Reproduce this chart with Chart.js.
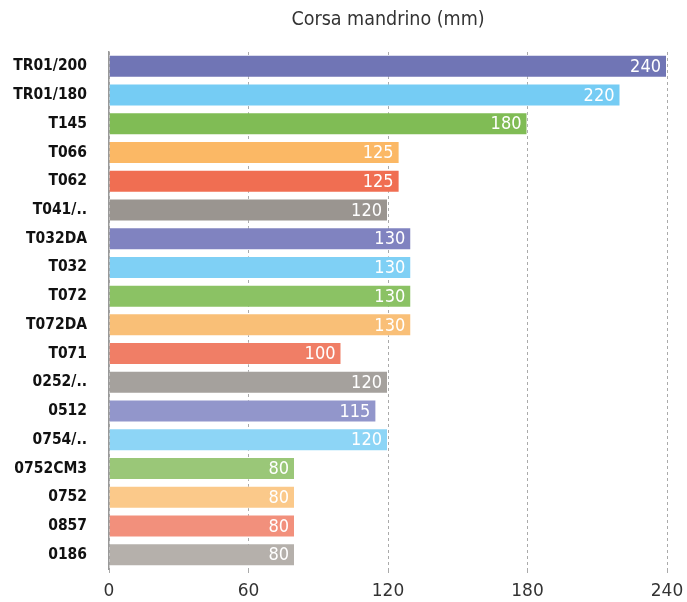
<!DOCTYPE html>
<html>
<head>
<meta charset="utf-8">
<script src="https://cdn.jsdelivr.net/npm/chart.js@4/dist/chart.umd.min.js"></script>
<style>
html,body{margin:0;padding:0;background:#fff;overflow:hidden}
#wrap{width:720px;height:602px;position:relative}
</style>
</head>
<body>
<div id="wrap"><canvas id="chart"></canvas></div>
<script>
const labels=["TR01/200","TR01/180","T145","T066","T062","T041/..","T032DA","T032","T072","T072DA","T071","0252/..","0512","0754/..","0752CM3","0752","0857","0186"];
const values=[240,220,180,125,125,120,130,130,130,130,100,120,115,120,80,80,80,80];
const colors=["#7075b5","#75ccf4","#80bc55","#fbb865","#f06e52","#9a9590","#8083c0","#7fd0f5","#8bc264","#f9bf77","#f07e66","#a5a19d","#9296cb","#8dd5f6","#9ac778","#fbc98a","#f2907c","#b5b0ab"];
const ticks=[0,60,120,180,240];
const title="Corsa mandrino (mm)";
const FONT="'DejaVu Sans Condensed',sans-serif";

const extras={
 id:"extras",
 afterDatasetsDraw(c){
  const ctx=c.ctx,meta=c.getDatasetMeta(0),a=c.chartArea;
  ctx.save();
  ctx.fillStyle="#fff";
  ctx.font="18px "+FONT;
  ctx.textAlign="right";
  ctx.textBaseline="middle";
  meta.data.forEach((b,i)=>{ctx.fillText(String(values[i]),b.x-6,b.y+1);});
  ctx.fillStyle="#333";
  ctx.font="19.5px "+FONT;
  ctx.textAlign="center";
  ctx.fillText(title,(a.left+a.right)/2,20);
  ctx.restore();
 }
};

const ctx=document.getElementById("chart").getContext("2d");
new Chart(ctx,{
 type:"bar",
 data:{labels:labels,datasets:[{data:values,backgroundColor:colors,borderColor:"rgba(255,255,255,0.35)",borderWidth:1,categoryPercentage:0.8,barPercentage:1}]},
 options:{
  indexAxis:"y",responsive:true,maintainAspectRatio:false,animation:false,
  layout:{padding:{left:0,right:53,top:52,bottom:0}},
  plugins:{legend:{display:false},tooltip:{enabled:false},title:{display:false}},
  scales:{
   x:{min:0,max:240,
    afterBuildTicks(s){s.ticks=ticks.map(v=>({value:v}));},
    grid:{color:"#aaa",tickLength:4,drawTicks:true,lineWidth:1},
    border:{display:false,dash:[3,3]},
    ticks:{color:"#333",font:{family:"'DejaVu Sans',sans-serif",size:17},padding:8,maxRotation:0},
    afterFit(s){s.height=33;}
   },
   y:{
    grid:{display:false},
    border:{display:true,color:"#999",width:1.5},
    ticks:{color:"#111",font:{family:FONT,size:15.5,weight:"bold"},padding:14},
    afterFit(s){s.width=109;}
   }
  }
 },
 plugins:[extras]
});
</script>
</body>
</html>
